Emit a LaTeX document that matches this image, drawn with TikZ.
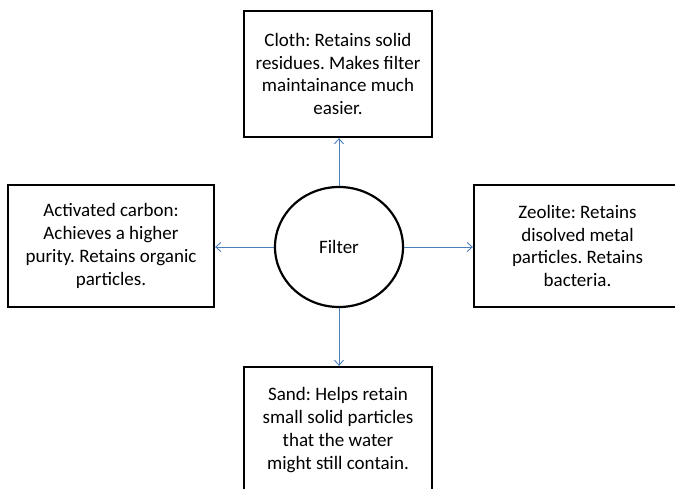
\documentclass[tikz,border=0pt]{standalone}
\usepackage{fontspec}
\setmainfont{Carlito}
\usetikzlibrary{arrows.meta,shapes.geometric}
\definecolor{linkblue}{HTML}{4A7EBB}
\frenchspacing
\tikzset{
  labelfont/.style={font=\fontsize{19}{22.8}\selectfont},
  infobox/.style={draw=black, line width=2.3pt, fill=white, align=center,
    inner sep=0pt, labelfont},
  hub/.style={draw=black, ellipse, line width=2.2pt, inner sep=0pt,
    minimum width=128pt, minimum height=120pt, labelfont},
  link/.style={draw=linkblue, line width=0.9pt, -{Straight Barb[length=5pt,width=9pt]}}
}
\begin{document}
\begin{tikzpicture}[x=1pt,y=-1pt]
  \useasboundingbox (0,0) rectangle (675,489);
  \clip (0,0) rectangle (675,489);
  % central filter
  \node[hub] (filter) at (339,247) {Filter};
  % the four filter layers
  \node[infobox, minimum width=188pt, minimum height=126pt] (cloth) at (338,74)
    {Cloth: Retains solid\\residues. Makes filter\\maintainance much\\easier.};
  \node[infobox, minimum width=206pt, minimum height=122pt] (carbon) at (111,246)
    {Activated carbon:\\Achieves a higher\\purity. Retains organic\\particles.};
  \node[infobox, minimum width=207pt, minimum height=122pt] (zeolite) at (577.5,246)
    {Zeolite: Retains\\disolved metal\\particles. Retains\\bacteria.};
  \node[infobox, minimum width=188pt, minimum height=126pt] (sand) at (338,430)
    {Sand: Helps retain\\small solid particles\\that the water\\might still contain.};
  % connectors
  \draw[link] (filter.north) -- (filter.north |- cloth.south);
  \draw[link] (filter.west) -- (filter.west -| carbon.east);
  \draw[link] (filter.east) -- (filter.east -| zeolite.west);
  \draw[link] (filter.south) -- (filter.south |- sand.north);
\end{tikzpicture}
\end{document}
